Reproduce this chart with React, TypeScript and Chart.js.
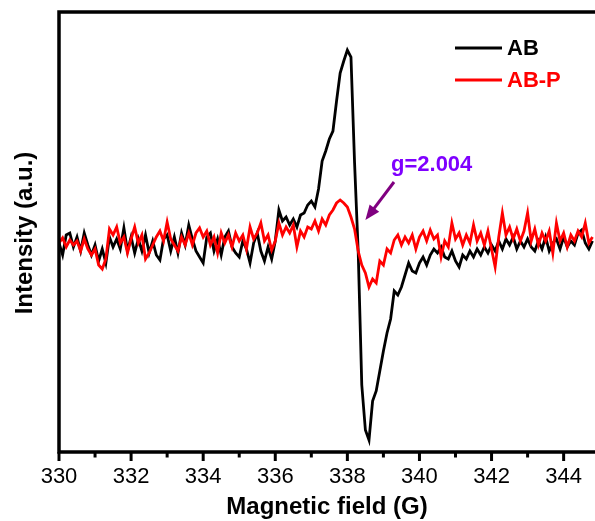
import React, { useEffect, useRef } from "react";
import { Chart, registerables } from "chart.js";

Chart.register(...registerables);

// Field grid: 330.0 .. 344.8 G, step 0.1 G (one row per gauss)
const FIELD_START = 330;
const FIELD_STEP = 0.1;

// Intensity (a.u.) of AB, rows of 0.1 G
const AB_ROWS: number[][] = [
  [0, -12, 8, 10, -4, 6, -8, 10, -2, -12],
  [-2, -18, -6, -20, 6, -4, 4, -6, 15, -8],
  [6, -10, 4, -8, 8, -10, 2, -12, -17, 4],
  [8, -8, 6, -10, 10, -2, 18, 4, -8, -14],
  [-20, 6, 10, -8, 4, -12, 6, 12, -4, -10],
  [-14, 2, -6, -20, 0, 10, -8, -18, -4, -16],
  [2, 33, 22, 26, 18, 24, 16, 28, 30, 38],
  [42, 36, 54, 82, 92, 104, 112, 142, 170, 182],
  [193, 186, 80, -8, -142, -187, -197, -158, -148, -128],
  [-108, -90, -76, -48, -52, -44, -32, -20, -28, -30],
  [-20, -14, -22, -12, -6, -10, -4, -14, -16, -8],
  [-18, -24, -12, -16, -8, -14, -6, -12, -4, -10],
  [-2, -8, 2, -6, 4, -2, 6, -6, 2, -4],
  [4, -4, -8, 2, -6, 6, -8, 0, 4, -6],
  [6, -4, 2, -2, 10, 13, 0, -6, 2],
];

// Intensity (a.u.) of AB-P, rows of 0.1 G
const ABP_ROWS: number[][] = [
  [0, 5, -4, 3, -2, 2, -8, 4, -6, -12],
  [-6, -22, -26, -16, 14, 8, 16, 0, 6, -10],
  [4, 16, 0, 8, -16, -10, -2, 6, 12, 2],
  [21, 4, -2, -8, 6, -2, 10, -2, 10, 15],
  [6, 12, -2, 6, -10, 10, 0, 8, -4, 10],
  [2, 8, -6, 16, 4, 10, 20, 2, 8, -7],
  [2, 20, 8, 16, 10, 18, -4, 12, 6, 16],
  [14, 22, 12, 24, 18, 28, 33, 40, 43, 40],
  [36, 26, 14, -8, -22, -30, -44, -36, -40, -18],
  [-22, -6, -10, 3, 8, -2, 6, 0, 8, -6],
  [6, 12, 2, 13, 4, 8, -14, 2, -4, 20],
  [4, 10, -2, 8, 0, 18, 2, 10, -2, 12],
  [-6, -24, 6, 30, 8, 16, 4, 14, 2, 12],
  [30, 2, 14, -2, 10, 2, 12, -10, 20, 2],
  [10, -4, 8, 2, 12, 6, 20, 0, 6],
];

const X_MIN = 330;
const X_MAX = 344.87;
const Y_MIN = -209;
const Y_MAX = 231;
const MAJOR_TICKS = [330, 332, 334, 336, 338, 340, 342, 344];
const MINOR_TICKS = [331, 333, 335, 337, 339, 341, 343];

const SERIES_NAMES = ["AB", "AB-P"];
const SERIES_COLORS = ["#000000", "#ff0000"];
const X_TITLE = "Magnetic field (G)";
const Y_TITLE = "Intensity (a.u.)";
const G_LABEL = "g=2.004";
const G_FIELD = 338.5; // where the arrow points

function toPoints(rows: number[][]) {
  const flat = rows.flat();
  return flat.map((v, i) => ({ x: +(FIELD_START + i * FIELD_STEP).toFixed(2), y: v }));
}

const framePlugin = {
  id: "frame",
  afterDatasetsDraw(chart: any) {
    const { ctx, chartArea } = chart;
    const xs = chart.scales.x;
    const { left, top, bottom } = chartArea;
    const right = chart.width;
    ctx.save();
    ctx.strokeStyle = "#000";
    ctx.lineWidth = 3.5;
    ctx.lineCap = "butt";
    ctx.beginPath();
    ctx.moveTo(left, top);
    ctx.lineTo(right, top);
    ctx.moveTo(left, top - 1.75);
    ctx.lineTo(left, bottom + 1.75);
    ctx.moveTo(left, bottom);
    ctx.lineTo(right, bottom);
    ctx.stroke();
    ctx.lineWidth = 3;
    MAJOR_TICKS.forEach((v) => {
      const px = xs.getPixelForValue(v);
      ctx.beginPath();
      ctx.moveTo(px, bottom);
      ctx.lineTo(px, bottom + 9);
      ctx.stroke();
    });
    MINOR_TICKS.forEach((v) => {
      const px = xs.getPixelForValue(v);
      ctx.beginPath();
      ctx.moveTo(px, bottom);
      ctx.lineTo(px, bottom + 5.5);
      ctx.stroke();
    });

    // axis titles
    ctx.fillStyle = "#000";
    ctx.font = "bold 24px Arial, 'Liberation Sans', sans-serif";
    ctx.textAlign = "center";
    ctx.textBaseline = "middle";
    ctx.fillText(X_TITLE, (left + right) / 2, 507);
    ctx.save();
    ctx.translate(25, 233);
    ctx.rotate(-Math.PI / 2);
    ctx.fillText(Y_TITLE, 0, 0);
    ctx.restore();

    // legend
    ctx.font = "bold 22px Arial, 'Liberation Sans', sans-serif";
    ctx.textAlign = "left";
    const legendY = [48, 80];
    SERIES_NAMES.forEach((name, i) => {
      ctx.strokeStyle = SERIES_COLORS[i];
      ctx.lineWidth = 3;
      ctx.beginPath();
      ctx.moveTo(455, legendY[i]);
      ctx.lineTo(502, legendY[i]);
      ctx.stroke();
      ctx.fillStyle = SERIES_COLORS[i];
      ctx.fillText(name, 507, legendY[i] + 1);
    });

    // g-value annotation
    ctx.fillStyle = "#7f00ff";
    ctx.font = "bold 22px Arial, 'Liberation Sans', sans-serif";
    ctx.textAlign = "left";
    ctx.fillText(G_LABEL, 391, 165);
    const tipX = xs.getPixelForValue(G_FIELD);
    const tipY = 220;
    const startX = 394;
    const startY = 182;
    const ang = Math.atan2(tipY - startY, tipX - startX);
    ctx.strokeStyle = "#800080";
    ctx.fillStyle = "#800080";
    ctx.lineWidth = 3;
    ctx.beginPath();
    ctx.moveTo(startX, startY);
    ctx.lineTo(tipX - 12 * Math.cos(ang), tipY - 12 * Math.sin(ang));
    ctx.stroke();
    ctx.beginPath();
    ctx.moveTo(tipX, tipY);
    ctx.lineTo(
      tipX - 15 * Math.cos(ang) + 6 * Math.sin(ang),
      tipY - 15 * Math.sin(ang) - 6 * Math.cos(ang)
    );
    ctx.lineTo(
      tipX - 15 * Math.cos(ang) - 6 * Math.sin(ang),
      tipY - 15 * Math.sin(ang) + 6 * Math.cos(ang)
    );
    ctx.closePath();
    ctx.fill();
    ctx.restore();
  },
};

export default function App() {
  const ref = useRef<HTMLCanvasElement>(null);
  useEffect(() => {
    if (!ref.current) return;
    const chart = new Chart(ref.current, {
      type: "line",
      data: {
        datasets: [
          {
            label: SERIES_NAMES[1],
            data: toPoints(ABP_ROWS),
            borderColor: SERIES_COLORS[1],
            borderWidth: 2.8,
            pointRadius: 0,
            tension: 0,
          },
          {
            label: SERIES_NAMES[0],
            data: toPoints(AB_ROWS),
            borderColor: SERIES_COLORS[0],
            borderWidth: 2.8,
            pointRadius: 0,
            tension: 0,
          },
        ],
      },
      options: {
        animation: false,
        responsive: false,
        maintainAspectRatio: false,
        layout: { padding: { top: 12, left: 0, right: 0, bottom: 0 } },
        plugins: { legend: { display: false }, tooltip: { enabled: false } },
        scales: {
          x: {
            type: "linear",
            min: X_MIN,
            max: X_MAX,
            grid: { display: false, drawTicks: false },
            border: { display: false },
            ticks: {
              stepSize: 1,
              includeBounds: false,
              autoSkip: false,
              maxRotation: 0,
              padding: 12,
              color: "#000",
              font: { family: "Arial, 'Liberation Sans', sans-serif", size: 22 },
              callback: (v: any) => (Number(v) % 2 === 0 && Number.isInteger(Number(v)) ? String(v) : ""),
            },
            afterFit: (s: any) => {
              s.height = 69;
              s.paddingRight = 0;
            },
          },
          y: {
            min: Y_MIN,
            max: Y_MAX,
            grid: { display: false, drawTicks: false },
            border: { display: false },
            ticks: { display: false },
            afterFit: (s: any) => {
              s.width = 59;
            },
          },
        },
      },
      plugins: [framePlugin],
    });
    return () => chart.destroy();
  }, []);
  return (
    <div style={{ position: "fixed", left: 0, top: 0, width: 595, height: 521, background: "#fff" }}>
      <canvas ref={ref} width={595} height={521} style={{ width: 595, height: 521, display: "block" }} />
    </div>
  );
}
